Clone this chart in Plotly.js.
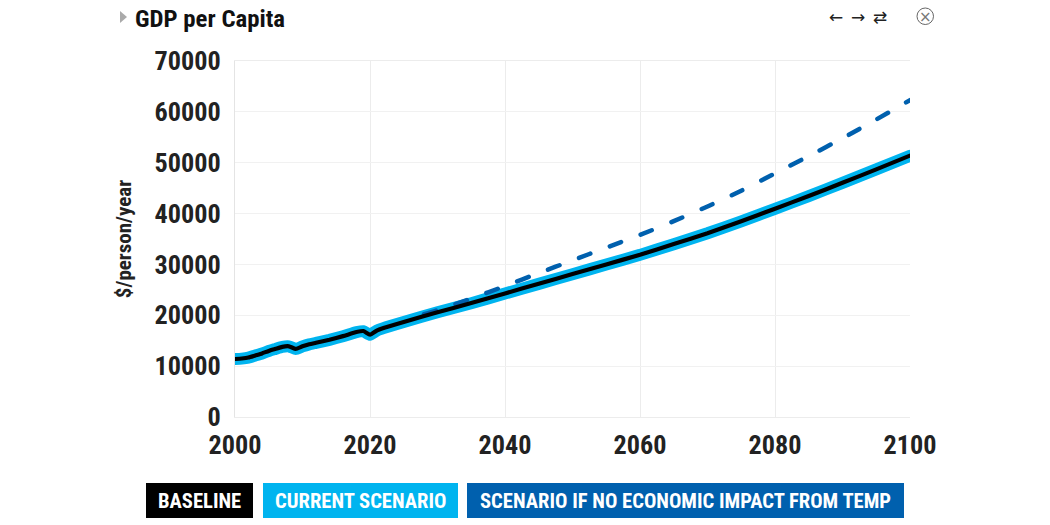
<!DOCTYPE html>
<html><head><meta charset="utf-8">
<script src="https://cdn.plot.ly/plotly-3.0.1.min.js"></script>
<style>html,body{margin:0;padding:0;background:#fff;overflow:hidden}#c{width:1050px;height:525px}.scatterlayer .js-line{stroke-linecap:round}</style>
</head><body><div id="c"></div>
<script>
var years=[2000,2001,2002,2003,2004,2005,2006,2007,2008,2009,2010,2011,2012,2014,2016,2018,2019,2020,2021,2022,2025,2030,2035,2040,2045,2050,2055,2060,2065,2070,2075,2080,2085,2090,2095,2100];
var baseline=[11400,11500,11700,12100,12500,13000,13400,13800,13900,13400,13900,14300,14600,15200,15900,16700,16900,16200,17000,17500,18700,20600,22400,24300,26200,28100,30000,31900,34000,36150,38500,40950,43450,46050,48700,51400];
var current=[11380,11480,11680,12080,12480,12980,13380,13780,13880,13380,13880,14280,14580,15180,15880,16680,16880,16180,16980,17480,18680,20580,22380,24280,26180,28080,29980,31880,33980,36130,38480,40930,43430,46030,48680,51380];
var noImpactYears=[2028,2030,2035,2040,2045,2050,2055,2060,2065,2070,2075,2080,2085,2090,2095,2100];
var noImpact=[20200,21000,23300,25750,28300,30800,33300,35800,38500,41400,44500,47900,51300,54800,58500,62300];
var title="GDP per Capita",yTitle="$/person/year";
var legendLabels=["BASELINE","CURRENT SCENARIO","SCENARIO IF NO ECONOMIC IMPACT FROM TEMP"];
var colors=["#000000","#00b4ef","#0060ae"];
var F="'Liberation Sans Narrow','Roboto Condensed',Roboto,sans-serif";
var px=function(x){return (x-235)/675},py=function(y){return (417-y)/356};
var btn=function(x,w,label){return {xref:'paper',yref:'paper',x:px(x+w/2),y:py(500.5),text:'<b>'+label+'</b>',showarrow:false,font:{family:F,size:20.6,color:'#fff'},xanchor:'center',yanchor:'middle'}};
var rect=function(x,w,col){return {type:'rect',xref:'paper',yref:'paper',x0:px(x),x1:px(x+w),y0:py(483),y1:py(518),fillcolor:col,line:{width:0},layer:'below'}};
var ic=function(x,t,s,c){return {xref:'paper',yref:'paper',x:px(x),y:py(17),text:t,showarrow:false,font:{family:'DejaVu Sans',size:s||17,color:c||'#222'},xanchor:'center',yanchor:'middle'}};
Plotly.newPlot('c',[
 {x:years,y:current,mode:'lines',line:{color:colors[1],width:12,shape:'spline',smoothing:0.5},hoverinfo:'skip',name:legendLabels[1]},
 {x:noImpactYears,y:noImpact,mode:'lines',line:{color:colors[2],width:4.5,dash:'12px 21px',shape:'spline',smoothing:0.5},name:legendLabels[2]},
 {x:years,y:baseline,mode:'lines',line:{color:colors[0],width:4.2,shape:'spline',smoothing:0.5},name:legendLabels[0]}
],{
 width:1050,height:525,showlegend:false,paper_bgcolor:'#fff',plot_bgcolor:'#fff',
 margin:{l:235,r:140,t:61,b:108},
 xaxis:{range:[2000,2100],tickvals:[2000,2020,2040,2060,2080,2100],showgrid:true,gridcolor:'#ececec',gridwidth:1,zeroline:false,showline:true,linecolor:'#ececec',mirror:true,ticks:'',tickfont:{family:F,size:26.2,weight:700,color:'#222'},ticklabelstandoff:5},
 yaxis:{range:[0,70000],tickvals:[0,10000,20000,30000,40000,50000,60000,70000],tickformat:'d',showgrid:true,gridcolor:'#f1f1f1',gridwidth:1,zeroline:false,showline:true,linecolor:'#e4e4e4',ticks:'',tickfont:{family:F,size:26.2,weight:700,color:'#222'},ticklabelstandoff:8,title:{text:'<b>'+yTitle+'</b>',font:{family:F,size:21,color:'#222'},standoff:17}},
 title:{text:'<b>'+title+'</b>',font:{family:F,size:24.8,color:'#111'},x:135/1050,xanchor:'left',y:1-18/525,yanchor:'middle'},
 shapes:[rect(146,107,colors[0]),rect(263,195,colors[1]),rect(467,437,colors[2]),
  {type:'path',xref:'paper',yref:'paper',path:'M '+px(120)+' '+py(11)+' L '+px(127)+' '+py(17)+' L '+px(120)+' '+py(23)+' Z',fillcolor:'#aaa',line:{width:0}},
  {type:'circle',xref:'paper',yref:'paper',x0:px(917),x1:px(933.5),y0:py(24.5),y1:py(8),line:{color:'#666',width:1},fillcolor:'rgba(0,0,0,0)'}
 ],
 annotations:[btn(146,107,legendLabels[0]),btn(263,195,legendLabels[1]),btn(467,437,legendLabels[2]),
  ic(836,'←'),ic(858,'→'),ic(880,'⇄'),ic(925,'×',15,'#777')]
},{displayModeBar:false,staticPlot:true});
</script></body></html>
